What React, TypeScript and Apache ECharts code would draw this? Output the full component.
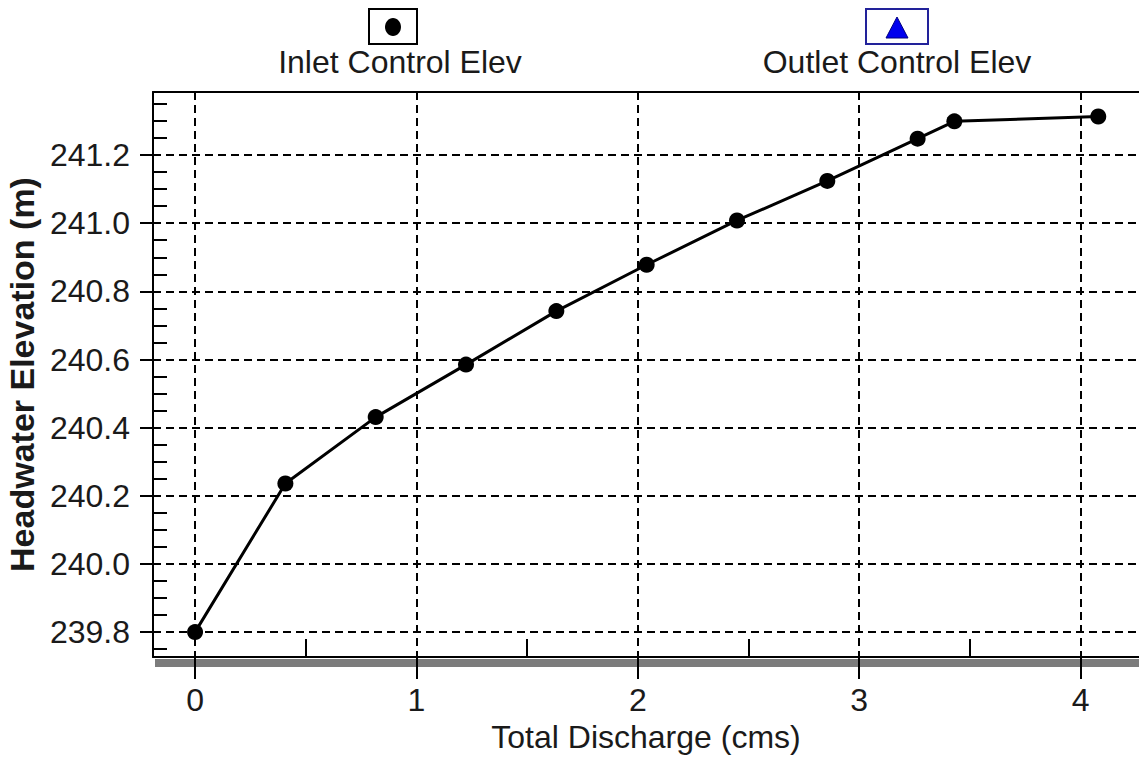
import React, { useEffect, useRef } from "react";
import * as echarts from "echarts";

// ---- data ----
const discharge = [0, 0.408, 0.816, 1.224, 1.632, 2.04, 2.448, 2.856, 3.264, 3.43, 4.08];
const inletElev = [239.8, 240.236, 240.431, 240.585, 240.742, 240.878, 241.008, 241.124, 241.248, 241.299, 241.313];
const outletElev: number[] = [];

const xMajorTicks = [0, 1, 2, 3, 4];
const xMinorTicks = [0.5, 1.5, 2.5, 3.5];
const yMajorTicks = [239.8, 240.0, 240.2, 240.4, 240.6, 240.8, 241.0, 241.2];
const yMinorTicks = [
  239.75, 239.85, 239.9, 239.95, 240.05, 240.1, 240.15, 240.25, 240.3, 240.35,
  240.45, 240.5, 240.55, 240.65, 240.7, 240.75, 240.85, 240.9, 240.95, 241.05,
  241.1, 241.15, 241.25, 241.3, 241.35,
];

const xName = "Total Discharge (cms)";
const yName = "Headwater Elevation (m)";
const legendNames = ["Inlet Control Elev", "Outlet Control Elev"];

const FONT = "'Liberation Sans', Arial, sans-serif";
const TXT = "#1a1a1a";

export default function App() {
  const ref = useRef<HTMLDivElement>(null);

  useEffect(() => {
    if (!ref.current) return;
    const chart = echarts.init(ref.current, null, { renderer: "svg" });
    const xMin = -0.19;
    const xMax = 4.264;
    const yMin = 239.727;
    const yMax = 241.385;
    const dash = { type: [8, 5] as any, color: "#000", width: 2 };

    chart.setOption({
      animation: false,
      backgroundColor: "#fff",
      grid: { left: 153, top: 92, right: 0, bottom: 101, outerBoundsMode: "none", containLabel: false },
      xAxis: [
        {
          type: "value",
          min: xMin,
          max: xMax,
          position: "bottom",
          axisLine: { show: true, onZero: false, lineStyle: { color: "#000", width: 2 } },
          axisTick: { show: true, inside: false, length: 22, customValues: xMajorTicks, lineStyle: { color: "#000", width: 2 } },
          axisLabel: { customValues: xMajorTicks, fontSize: 32, fontFamily: FONT, color: TXT, margin: 27 },
          splitLine: { show: true, lineStyle: dash },
          name: xName,
          nameLocation: "middle",
          nameGap: 62,
          nameTextStyle: { fontSize: 32, fontFamily: FONT, color: TXT },
        },
        {
          type: "value",
          min: xMin,
          max: xMax,
          position: "bottom",
          axisLine: { show: false, onZero: false },
          axisTick: { show: true, inside: true, length: 18, customValues: xMinorTicks, lineStyle: { color: "#000", width: 2 } },
          axisLabel: { show: false },
          splitLine: { show: false },
        },
        {
          type: "value",
          min: xMin,
          max: xMax,
          position: "top",
          axisLine: { show: true, onZero: false, lineStyle: { color: "#000", width: 2 } },
          axisTick: { show: false },
          axisLabel: { show: false },
          splitLine: { show: false },
        },
      ],
      yAxis: [
        {
          type: "value",
          min: yMin,
          max: yMax,
          position: "left",
          axisLine: { show: true, onZero: false, lineStyle: { color: "#000", width: 2 } },
          axisTick: { show: true, inside: false, length: 13, customValues: yMajorTicks, lineStyle: { color: "#000", width: 2 } },
          axisLabel: {
            customValues: yMajorTicks,
            formatter: (v: number) => v.toFixed(1),
            fontSize: 32,
            fontFamily: FONT,
            color: TXT,
            margin: 23,
          },
          splitLine: { show: true, lineStyle: dash },
          name: yName,
          nameLocation: "middle",
          nameGap: 110,
          nameTextStyle: { fontSize: 34, fontWeight: "bold", fontFamily: FONT, color: TXT },
        },
        {
          type: "value",
          min: yMin,
          max: yMax,
          position: "left",
          axisLine: { show: false, onZero: false },
          axisTick: { show: true, inside: true, length: 14, customValues: yMinorTicks, lineStyle: { color: "#000", width: 2 } },
          axisLabel: { show: false },
          splitLine: { show: false },
        },
      ],
      series: [
        {
          name: legendNames[0],
          type: "line",
          xAxisIndex: 0,
          yAxisIndex: 0,
          data: discharge.map((x, i) => [x, inletElev[i]]),
          symbol: "circle",
          symbolSize: 16,
          itemStyle: { color: "#000" },
          lineStyle: { color: "#000", width: 3 },
          z: 5,
        },
        {
          name: legendNames[1],
          type: "line",
          xAxisIndex: 0,
          yAxisIndex: 0,
          data: outletElev,
          symbol: "triangle",
          symbolSize: 16,
          itemStyle: { color: "#0000ff" },
          lineStyle: { color: "#0000ff", width: 3 },
        },
      ],
      graphic: [
        {
          type: "rect",
          z: -1,
          shape: { x: 155, y: 659, width: 984, height: 8 },
          style: { fill: "#7c7c7c" },
        },
        {
          type: "rect",
          shape: { x: 369, y: 9, width: 48, height: 35 },
          style: { fill: "#fff", stroke: "#000", lineWidth: 2 },
        },
        {
          type: "ellipse",
          shape: { cx: 393, cy: 27, rx: 8, ry: 9 },
          style: { fill: "#000" },
        },
        {
          type: "text",
          style: { text: legendNames[0], x: 400, y: 62, fontSize: 32, fontFamily: FONT, fill: TXT, align: "center", verticalAlign: "middle" },
        },
        {
          type: "rect",
          shape: { x: 866, y: 9, width: 62, height: 35 },
          style: { fill: "#fff", stroke: "#22229a", lineWidth: 2 },
        },
        {
          type: "polygon",
          shape: { points: [[897, 17], [886, 38], [908, 38]] },
          style: { fill: "#0000ee", stroke: "#000080", lineWidth: 1 },
        },
        {
          type: "text",
          style: { text: legendNames[1], x: 897, y: 62, fontSize: 32, fontFamily: FONT, fill: TXT, align: "center", verticalAlign: "middle" },
        },
      ],
    });
    return () => chart.dispose();
  }, []);

  return (
    <div
      ref={ref}
      style={{ position: "absolute", left: 0, top: 0, width: 1139, height: 758 }}
    />
  );
}
